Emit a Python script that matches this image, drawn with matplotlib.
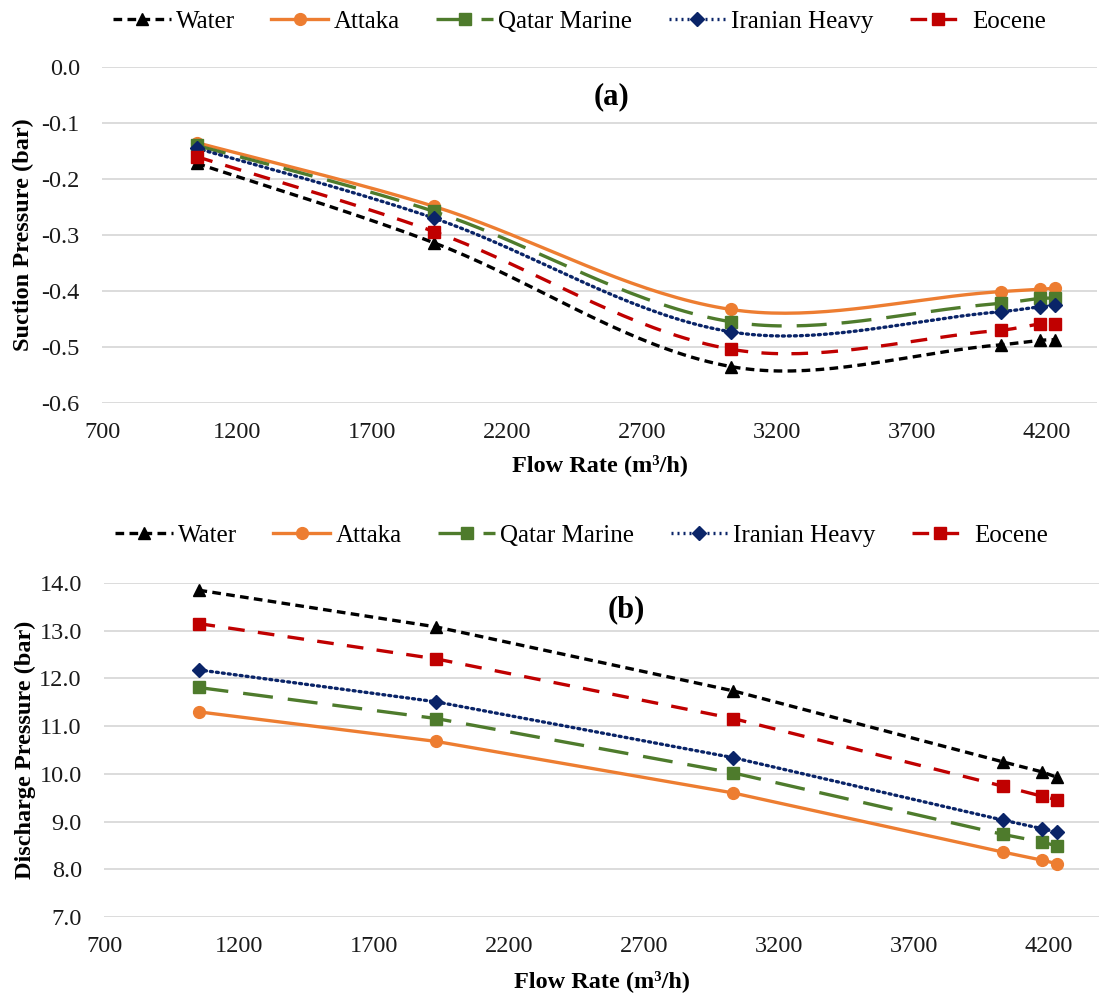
import numpy as np
import matplotlib
matplotlib.use("Agg")
import matplotlib.pyplot as plt
from matplotlib.lines import Line2D

# ---- data -------------------------------------------------------------
flow_rate = [1050, 1930, 3030, 4030, 4175, 4228]

series_names = ["Water", "Attaka", "Qatar Marine", "Iranian Heavy", "Eocene"]

suction_water = [-0.172, -0.314, -0.535, -0.496, -0.488, -0.487]
suction_attaka = [-0.135, -0.249, -0.433, -0.401, -0.397, -0.395]
suction_qatar = [-0.140, -0.258, -0.455, -0.422, -0.413, -0.413]
suction_iranian = [-0.145, -0.270, -0.473, -0.437, -0.428, -0.425]
suction_eocene = [-0.160, -0.294, -0.504, -0.470, -0.459, -0.459]

discharge_water = [13.85, 13.08, 11.74, 10.25, 10.04, 9.93]
discharge_attaka = [11.30, 10.68, 9.60, 8.36, 8.19, 8.12]
discharge_qatar = [11.81, 11.16, 10.02, 8.73, 8.57, 8.49]
discharge_iranian = [12.18, 11.51, 10.34, 9.03, 8.85, 8.78]
discharge_eocene = [13.15, 12.41, 11.16, 9.74, 9.53, 9.46]

x_ticks = [700, 1200, 1700, 2200, 2700, 3200, 3700, 4200]
suction_ticks = [0.0, -0.1, -0.2, -0.3, -0.4, -0.5, -0.6]
discharge_ticks = [7.0, 8.0, 9.0, 10.0, 11.0, 12.0, 13.0, 14.0]

# ---- styles -----------------------------------------------------------
styles = {
    "Water": dict(color="black", marker="^", dashes=(2.6, 1.6), ms=9),
    "Attaka": dict(color="#ED7D31", marker="o", dashes=None, ms=8.5),
    "Qatar Marine": dict(color="#4E7B2C", marker="s", dashes=(9, 4.5), ms=8.5),
    "Iranian Heavy": dict(color="#0A2468", marker="D", dashes=(0.6, 1.2), ms=7),
    "Eocene": dict(color="#C00000", marker="s", dashes=(5, 4), ms=9),
}

plt.rcParams["font.family"] = ["Liberation Serif", "DejaVu Serif"]

FIG_W, FIG_H = 1118, 996
FS = 17.5
FS_LEG = 18
fig = plt.figure(figsize=(FIG_W / 100, FIG_H / 100), dpi=100)


def axes_px(left, top, right, bottom):
    return fig.add_axes([left / FIG_W, 1 - bottom / FIG_H,
                         (right - left) / FIG_W, (bottom - top) / FIG_H])


def smooth_curve(x, y, sx, sy, n=40):
    """Bezier smoothing of a polyline (spreadsheet-style smoothed line)."""
    pts = np.column_stack([np.asarray(x, float), np.asarray(y, float)])
    scale = np.array([sx, sy])
    P = np.vstack([pts[0], pts, pts[-1]])
    t = np.linspace(0, 1, n)[:, None]
    out = []
    for i in range(1, len(P) - 2):
        p0, p1, p2, p3 = P[i - 1], P[i], P[i + 1], P[i + 2]
        d01 = np.linalg.norm((p1 - p0) * scale)
        d12 = np.linalg.norm((p2 - p1) * scale)
        d23 = np.linalg.norm((p3 - p2) * scale)
        f1 = 0.5 if d01 == 0 else d12 / (d01 + d12)
        f2 = 0.5 if d23 == 0 else d12 / (d12 + d23)
        c1 = p1 + (p2 - p0) * f1 / 3.0
        c2 = p2 - (p3 - p1) * f2 / 3.0
        seg = ((1 - t) ** 3) * p1 + 3 * ((1 - t) ** 2) * t * c1 \
            + 3 * (1 - t) * (t ** 2) * c2 + (t ** 3) * p2
        out.append(seg if i == 1 else seg[1:])
    return np.vstack(out)


def style_axes(ax, yticks, ylim, ylabel, fmt, xlabel_y, ylabel_x):
    ax.set_xlim(700, 4385)
    ax.set_ylim(*ylim)
    ax.set_xticks(x_ticks)
    ax.set_yticks(yticks)
    ax.set_yticklabels([fmt.format(v) for v in yticks])
    ax.grid(True, axis="y", color="#D9D9D9", linewidth=1.3)
    ax.set_axisbelow(True)
    for s in ax.spines.values():
        s.set_visible(False)
    ax.tick_params(axis="both", length=0, labelsize=FS, colors="#1a1a1a")
    ax.tick_params(axis="y", pad=16)
    ax.tick_params(axis="x", pad=14)
    ax.set_xlabel("Flow Rate (m³/h)", fontsize=FS, fontweight="bold")
    ax.set_ylabel(ylabel, fontsize=FS, fontweight="bold")
    ax.xaxis.set_label_coords(0.5, xlabel_y)
    ax.yaxis.set_label_coords(ylabel_x, 0.5)


def legend_handles():
    hs = []
    for name in series_names:
        st = styles[name]
        h = Line2D([0], [0], color=st["color"], lw=2.4, marker=st["marker"],
                   ms=st["ms"], markeredgecolor=st["color"])
        if st["dashes"] is not None:
            h.set_dashes(st["dashes"])
        hs.append(h)
    return hs


def draw(ax, data, smooth, legend_y):
    x0, x1 = ax.get_xlim()
    y0, y1 = ax.get_ylim()
    bbox = ax.get_position()
    sx = bbox.width * FIG_W / (x1 - x0)
    sy = bbox.height * FIG_H / (y1 - y0)
    for name in series_names:
        st = styles[name]
        y = data[name]
        if smooth:
            curve = smooth_curve(flow_rate, y, sx, sy)
            xs, ys = curve[:, 0], curve[:, 1]
        else:
            xs, ys = flow_rate, y
        ln, = ax.plot(xs, ys, color=st["color"], lw=2.4,
                      solid_capstyle="butt",
                      dash_capstyle="round" if name == "Iranian Heavy" else "butt")
        if st["dashes"] is not None:
            ln.set_dashes(st["dashes"])
        ax.plot(flow_rate, y, linestyle="none", marker=st["marker"],
                ms=st["ms"], color=st["color"], markeredgecolor=st["color"],
                zorder=3)
    ax.legend(handles=legend_handles(), labels=series_names, ncol=5,
              loc="center", bbox_to_anchor=(0.48, legend_y), frameon=False,
              fontsize=FS_LEG, handlelength=2.3, columnspacing=1.45,
              handletextpad=0.2, borderaxespad=0, borderpad=0)


# ---- (a) suction pressure ---------------------------------------------
ax_a = axes_px(102, 67, 1097, 403)
style_axes(ax_a, suction_ticks, (-0.6, 0.0), "Suction Pressure (bar)",
           "{:.1f}", xlabel_y=-0.152, ylabel_x=-0.068)
draw(ax_a, {
    "Water": suction_water, "Attaka": suction_attaka,
    "Qatar Marine": suction_qatar, "Iranian Heavy": suction_iranian,
    "Eocene": suction_eocene}, smooth=True, legend_y=1.134)
ax_a.text(0.512, 0.911, "(a)", transform=ax_a.transAxes, ha="center",
          va="center", fontsize=22, fontweight="bold")

# ---- (b) discharge pressure -------------------------------------------
ax_b = axes_px(104, 583, 1099, 917)
style_axes(ax_b, discharge_ticks, (7.0, 14.0), "Discharge Pressure (bar)",
           "{:.1f}", xlabel_y=-0.159, ylabel_x=-0.068)
draw(ax_b, {
    "Water": discharge_water, "Attaka": discharge_attaka,
    "Qatar Marine": discharge_qatar, "Iranian Heavy": discharge_iranian,
    "Eocene": discharge_eocene}, smooth=False, legend_y=1.141)
ax_b.text(0.525, 0.919, "(b)", transform=ax_b.transAxes, ha="center",
          va="center", fontsize=22, fontweight="bold")

fig.savefig("out.png", dpi=100, facecolor="white")
